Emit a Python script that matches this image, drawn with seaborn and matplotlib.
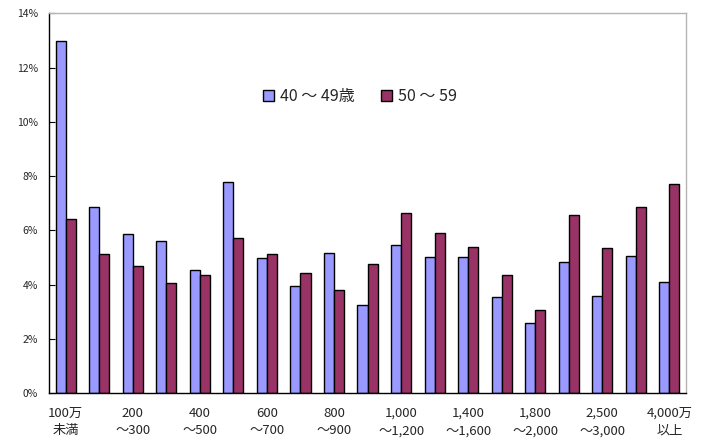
import matplotlib
matplotlib.use("Agg")
import matplotlib.pyplot as plt
import numpy as np
import pandas as pd
import seaborn as sns

# Income brackets (万円) and share of households per age group (%)
categories = ["100万未満", "100～200", "200～300", "300～400", "400～500",
              "500～600", "600～700", "700～800", "800～900", "900～1,000",
              "1,000～1,200", "1,200～1,400", "1,400～1,600", "1,600～1,800",
              "1,800～2,000", "2,000～2,500", "2,500～3,000", "3,000～4,000",
              "4,000万以上"]
tick_labels = ["100万\n未満", "", "200\n～300", "", "400\n～500", "", "600\n～700", "",
               "800\n～900", "", "1,000\n～1,200", "", "1,400\n～1,600", "",
               "1,800\n～2,000", "", "2,500\n～3,000", "", "4,000万\n以上"]
series_names = ["40 ～ 49歳", "50 ～ 59"]
age_40s = [13.0, 6.86, 5.87, 5.62, 4.53, 7.77, 4.99, 3.94, 5.16, 3.24,
           5.46, 5.02, 5.02, 3.54, 2.59, 4.82, 3.58, 5.04, 4.08]
age_50s = [6.43, 5.12, 4.69, 4.05, 4.34, 5.72, 5.12, 4.42, 3.78, 4.75,
           6.62, 5.90, 5.39, 4.34, 3.06, 6.57, 5.36, 6.85, 7.72]
colors = ["#9999FF", "#993366"]

df = pd.DataFrame({
    "bracket": categories * 2,
    "group": [series_names[0]] * len(categories) + [series_names[1]] * len(categories),
    "share": age_40s + age_50s,
})

sns.set_theme(style="white")
plt.rcParams["font.family"] = ["Noto Sans CJK JP", "DejaVu Sans"]

fig = plt.figure(figsize=(7.11, 4.45), dpi=100)
ax = fig.add_axes([0.0689, 0.1169, 0.8961, 0.853])

sns.barplot(data=df, x="bracket", y="share", hue="group", order=categories,
            hue_order=series_names, palette=colors, width=0.6, saturation=1,
            edgecolor="black", linewidth=1.0, ax=ax, legend=True)

ax.set_xlim(-0.5, len(categories) - 0.5)
ax.set_ylim(0, 14)
ax.set_yticks(np.arange(0, 15, 2))
ax.set_yticklabels([f"{v}%" for v in range(0, 15, 2)], fontsize=7.5)
ax.set_xticks(range(len(categories)))
ax.set_xticklabels(tick_labels, fontsize=9.5, linespacing=1.45)
ax.set_xticks(np.arange(-0.5, len(categories), 1), minor=True)
ax.tick_params(axis="x", which="major", length=0, pad=10)
ax.tick_params(axis="x", which="minor", direction="in", length=4, width=0.8, color="black")
ax.tick_params(axis="y", which="major", direction="in", length=4, width=0.8,
               color="black", pad=8, left=True)
ax.set_xlabel("")
ax.set_ylabel("")

for side in ["left", "bottom"]:
    ax.spines[side].set_color("black")
    ax.spines[side].set_linewidth(1.0)
for side in ["top", "right"]:
    ax.spines[side].set_color("#b4b4b4")
    ax.spines[side].set_linewidth(1.0)

leg = ax.legend(loc="center", bbox_to_anchor=(0.488, 0.78), ncol=2, frameon=False,
                fontsize=11.5, handlelength=0.7, handleheight=0.7, handletextpad=0.4,
                columnspacing=1.6)

fig.savefig("out.png", dpi=100)
